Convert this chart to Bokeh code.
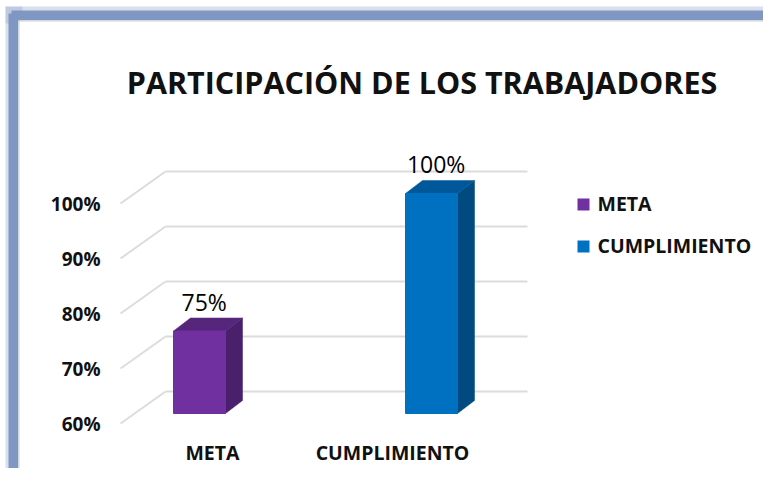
from bokeh.plotting import figure
from bokeh.models import Range1d, ColumnDataSource
from bokeh.core.properties import value
from bokeh.embed import file_html
from bokeh.resources import INLINE

# ---------------- data ----------------
title_text = "PARTICIPACIÓN DE LOS TRABAJADORES"
categories = ["META", "CUMPLIMIENTO"]
values = [75, 100]
data_labels = ["75%", "100%"]
tick_values = [60, 70, 80, 90, 100]
tick_labels = ["60%", "70%", "80%", "90%", "100%"]
axis_min = 60

# ---------------- style ----------------
front_colors = ["#7030A0", "#0070C0"]
side_colors = ["#4A1F6B", "#004A80"]
top_colors = ["#56257C", "#00589A"]
grid_color = "#dcdcdc"
frame_color = "#7F97C2"
text_color = "#111111"
FONT = "Open Sans"

# ---------------- geometry (pixels -> data units) ----------------
W, H = 763, 468
PX_X = 1 / 232.0          # category units per pixel
PX_Y = 1 / 5.5            # percent per pixel
X_START = -199 * PX_X
Y_START = axis_min - (H - 413) * PX_Y
Y_END = axis_min + 413 * PX_Y


def sx(X):
    return X_START + X * PX_X


def sy(Y):
    return axis_min + (413 - Y) * PX_Y


HALF_W = 26 * PX_X                 # half bar width
BAR_DX, BAR_DY = 17 * PX_X, 13 * PX_Y      # bar depth
FRONT_DX, FRONT_DY = -14 * PX_X, -10 * PX_Y  # front edge of the left wall
BACK_DX, BACK_DY = 31 * PX_X, 22 * PX_Y      # back wall
WALL_L, WALL_R = -0.280, 1.280

p = figure(width=W, height=H, output_backend="svg", toolbar_location=None,
           x_range=Range1d(X_START, X_START + W * PX_X),
           y_range=Range1d(Y_START, Y_END), min_border=0)
p.axis.visible = False
p.grid.visible = False
p.outline_line_color = None
p.background_fill_color = "white"
p.border_fill_color = "white"

# ---------------- frame ----------------
p.quad(left=sx(5), right=sx(22), bottom=Y_START, top=sy(6), fill_color=frame_color,
       fill_alpha=0.3, line_color=None)
p.quad(left=sx(5), right=sx(790), bottom=sy(23), top=sy(6), fill_color=frame_color,
       fill_alpha=0.3, line_color=None)
p.quad(left=sx(8), right=sx(18), bottom=Y_START, top=sy(13), fill_color=frame_color,
       line_color=None)
p.quad(left=sx(11), right=sx(790), bottom=sy(20), top=sy(10), fill_color=frame_color,
       line_color=None)
p.quad(left=sx(18), right=sx(790), bottom=Y_START, top=sy(20), fill_color="white",
       line_color=None)
p.line([sx(18.5), sx(18.5)], [Y_START, sy(20.5)], line_color="#cfcfcf", line_width=1)
p.line([sx(18.5), sx(790)], [sy(20.5), sy(20.5)], line_color="#cfcfcf", line_width=1)

# ---------------- gridlines ----------------
for v in tick_values:
    p.line([WALL_L + BACK_DX, WALL_R + BACK_DX], [v + BACK_DY, v + BACK_DY],
           line_color=grid_color, line_width=2)
    p.line([WALL_L + FRONT_DX, WALL_L + BACK_DX], [v + FRONT_DY, v + BACK_DY],
           line_color=grid_color, line_width=2)

# tick labels
p.text(x=[WALL_L + FRONT_DX - 20 * PX_X] * len(tick_values),
       y=[v + FRONT_DY for v in tick_values], text=tick_labels,
       text_align="right", text_baseline="middle", text_font=value(FONT),
       text_font_style="bold", text_font_size="19px", text_color=text_color)

# ---------------- bars ----------------
xs = list(range(len(categories)))
for i, v in zip(xs, values):
    l, r = i - HALF_W, i + HALF_W
    # side
    p.patch([r, r + BAR_DX, r + BAR_DX, r],
            [axis_min, axis_min + BAR_DY, v + BAR_DY, v],
            fill_color=side_colors[i], line_color=side_colors[i], line_width=0.5)
    # top
    p.patch([l, l + BAR_DX, r + BAR_DX, r],
            [v, v + BAR_DY, v + BAR_DY, v],
            fill_color=top_colors[i], line_color=top_colors[i], line_width=0.5)
src = ColumnDataSource(dict(left=[i - HALF_W for i in xs], right=[i + HALF_W for i in xs],
                            top=values, bottom=[axis_min] * len(xs), color=front_colors))
p.quad(left="left", right="right", top="top", bottom="bottom", fill_color="color",
       line_color="color", source=src)

# data labels
p.text(x=[i + 0.02 for i in xs], y=[v + BAR_DY + 16.5 * PX_Y for v in values],
       text=data_labels, text_align="center", text_baseline="middle",
       text_font=value(FONT), text_font_size="23px", text_color="#000000")

# category labels (perspective shifted along the floor front edge)
LBL_X0, LBL_STEP = 13 * PX_X, 180 * PX_X
p.text(x=[LBL_X0 + i * LBL_STEP for i in xs], y=[axis_min + FRONT_DY - 29 * PX_Y] * len(xs),
       text=categories, text_align="center", text_baseline="middle",
       text_font=value(FONT), text_font_style="bold", text_font_size="19.5px",
       text_color=text_color)

# ---------------- title ----------------
p.text(x=[sx(421.5)], y=[sy(81)], text=[title_text], text_align="center",
       text_baseline="middle", text_font=value(FONT), text_font_style="bold",
       text_font_size="30.5px", text_color=text_color)

# ---------------- legend ----------------
leg_y = [204, 246]
p.rect(x=[sx(583)] * 2, y=[sy(yy) for yy in leg_y], width=12 * PX_X, height=12 * PX_Y,
       fill_color=front_colors, line_color=None)
p.text(x=[sx(597)] * 2, y=[sy(yy - 1) for yy in leg_y], text=categories,
       text_align="left", text_baseline="middle", text_font=value(FONT),
       text_font_style="bold", text_font_size="19.5px", text_color=text_color)

open("out.html", "w").write(file_html(p, INLINE))
